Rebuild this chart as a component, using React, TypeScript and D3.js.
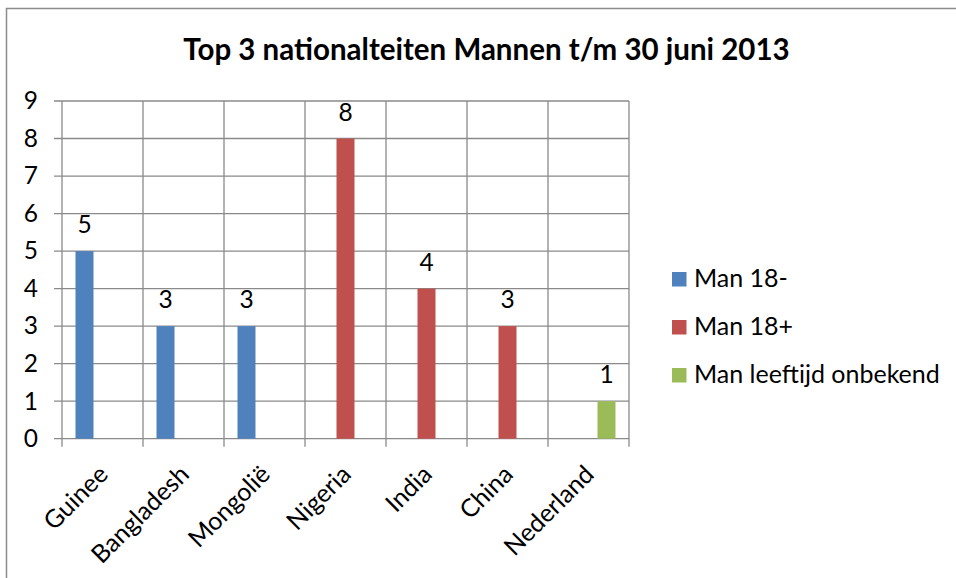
import React from "react";
import * as d3 from "d3";

const categories = ["Guinee", "Bangladesh", "Mongolië", "Nigeria", "India", "China", "Nederland"];
const seriesNames = ["Man 18-", "Man 18+", "Man leeftijd onbekend"];
const man18min: (number | null)[] = [5, 3, 3, null, null, null, null];
const man18plus: (number | null)[] = [null, null, null, 8, 4, 3, null];
const manOnbekend: (number | null)[] = [null, null, null, null, null, null, 1];
const yTicks = [0, 1, 2, 3, 4, 5, 6, 7, 8, 9];
const title = "Top 3 nationalteiten Mannen t/m 30 juni 2013";

const seriesValues = [man18min, man18plus, manOnbekend];
const colors = ["#4F81BD", "#C0504D", "#9BBB59"];

const W = 956;
const H = 578;
const FONT = "Lato, 'Open Sans', sans-serif";

export default function App() {
  const plotLeft = 62;
  const plotRight = 629;
  const plotTop = 101;
  const plotBottom = 438.7;

  const x = d3.scaleBand<string>().domain(categories).range([plotLeft, plotRight]).paddingInner(0).paddingOuter(0);
  const xs = d3
    .scaleBand<string>()
    .domain(seriesNames)
    .range([0, x.bandwidth()])
    .paddingInner(0)
    .paddingOuter(0.75);
  const y = d3.scaleLinear().domain([0, 9]).range([plotBottom, plotTop]);

  const grid = "#8a8a8a";
  const labelSize = 24.5;
  const legendSize = 25;

  return (
    <svg
      width={W}
      height={H}
      style={{ position: "absolute", left: 0, top: 0, background: "#fff" }}
      fontFamily={FONT}
    >
      <rect x={0} y={0} width={W} height={H} fill="#fff" />
      <rect x={6.5} y={8.5} width={W + 50} height={H + 50} fill="none" stroke="#8c8c8c" strokeWidth={1.5} />
      <text x={486.5} y={59.5} textAnchor="middle" fontWeight="bold" fontSize={29.5} fill="#000">
        {title}
      </text>

      {/* horizontal gridlines */}
      {yTicks.map((t) => (
        <line key={"h" + t} x1={plotLeft - 8} x2={plotRight} y1={y(t)} y2={y(t)} stroke={grid} strokeWidth={1.3} />
      ))}
      {/* vertical gridlines */}
      {categories.map((c) => (
        <line key={"v" + c} x1={x(c)!} x2={x(c)!} y1={plotTop} y2={plotBottom + 8} stroke={grid} strokeWidth={1.3} />
      ))}
      <line x1={plotRight} x2={plotRight} y1={plotTop} y2={plotBottom + 8} stroke={grid} strokeWidth={1.3} />

      {/* y tick labels */}
      {yTicks.map((t) => (
        <text key={"yl" + t} x={38} y={y(t) + labelSize * 0.34} textAnchor="end" fontSize={labelSize} fill="#000">
          {t}
        </text>
      ))}

      {/* bars */}
      {seriesValues.map((vals, si) =>
        vals.map((v, ci) => {
          if (v == null) return null;
          const cx = x(categories[ci])! + xs(seriesNames[si])!;
          return (
            <g key={si + "-" + ci}>
              <rect x={cx} y={y(v)} width={xs.bandwidth()} height={plotBottom - y(v)} fill={colors[si]} />
              <text
                x={cx + xs.bandwidth() / 2}
                y={y(v) - 18}
                textAnchor="middle"
                fontSize={labelSize}
                fill="#000"
              >
                {v}
              </text>
            </g>
          );
        })
      )}

      {/* x labels */}
      {categories.map((c) => (
        <text
          key={"xl" + c}
          transform={`translate(${x(c)! + x.bandwidth() / 2 + 7},476) rotate(-45)`}
          textAnchor="end"
          fontSize={legendSize}
          fill="#000"
        >
          {c}
        </text>
      ))}

      {/* legend */}
      {seriesNames.map((s, i) => (
        <g key={"lg" + s} transform={`translate(672,${287 + i * 48})`}>
          <rect x={0} y={-15} width={14.5} height={14.5} fill={colors[i]} />
          <text x={22} y={0} fontSize={legendSize} fill="#000">
            {s}
          </text>
        </g>
      ))}
    </svg>
  );
}
